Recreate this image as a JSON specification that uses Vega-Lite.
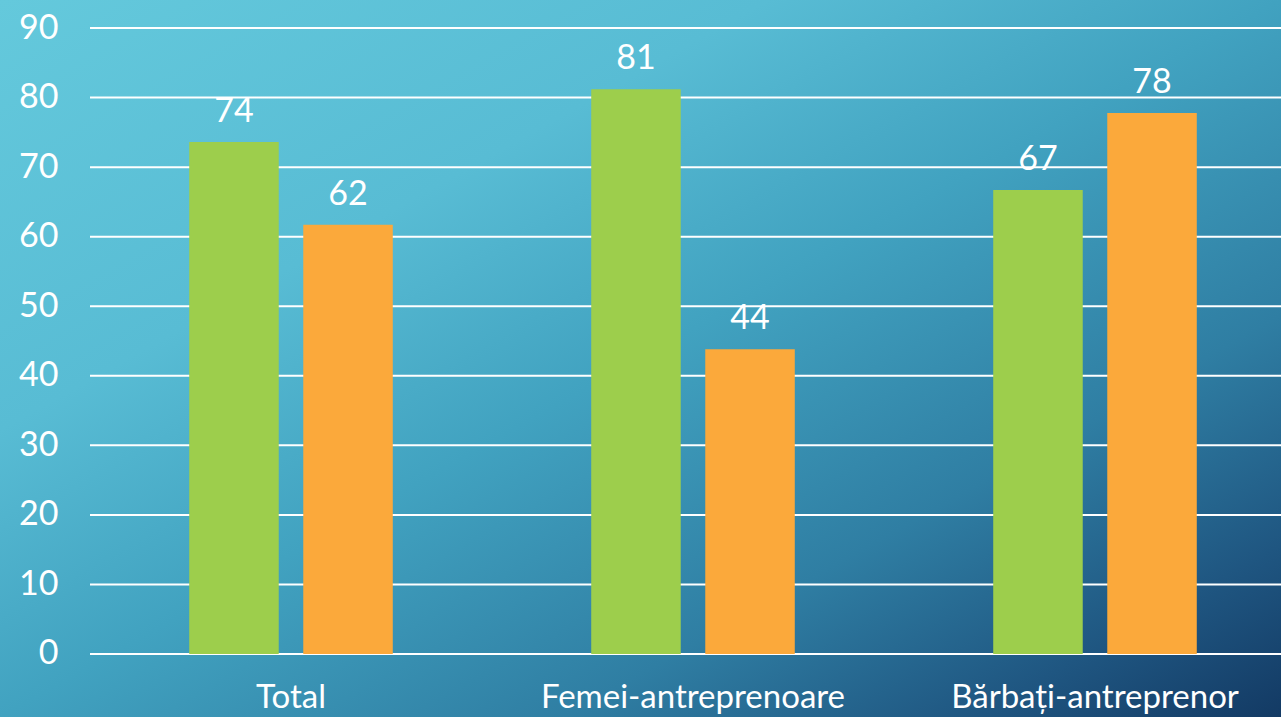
{
  "$schema": "https://vega.github.io/schema/vega-lite/v6.json",
  "width": 1281,
  "height": 717,
  "autosize": "none",
  "padding": 0,
  "background": "#3f9fbf",
  "config": {
    "view": {
      "stroke": null,
      "fill": {
        "gradient": "linear",
        "x1": 0, "y1": 0, "x2": 1, "y2": 1,
        "stops": [
          {"offset": 0, "color": "#64c9dc"},
          {"offset": 0.3, "color": "#58bcd4"},
          {"offset": 0.5, "color": "#41a2c0"},
          {"offset": 0.72, "color": "#2f7ea3"},
          {"offset": 0.88, "color": "#1f5681"},
          {"offset": 1, "color": "#133a64"}
        ]
      }
    },
    "font": "Lato"
  },
  "datasets": {
    "bars": [
      {"category": "Total", "series": "A", "value": 73.6},
      {"category": "Total", "series": "B", "value": 61.7},
      {"category": "Femei-antreprenoare", "series": "A", "value": 81.2},
      {"category": "Femei-antreprenoare", "series": "B", "value": 43.8},
      {"category": "Bărbați-antreprenor", "series": "A", "value": 66.7},
      {"category": "Bărbați-antreprenor", "series": "B", "value": 77.8}
    ],
    "grid": [
      {"g": 0}, {"g": 10}, {"g": 20}, {"g": 30}, {"g": 40},
      {"g": 50}, {"g": 60}, {"g": 70}, {"g": 80}, {"g": 90}
    ]
  },
  "layer": [
    {
      "data": {"name": "grid"},
      "mark": {"type": "rule", "color": "white", "strokeWidth": 2},
      "encoding": {
        "x": {"datum": "Total", "type": "nominal", "bandPosition": 0, "scale": {"domain": ["Total", "Femei-antreprenoare", "Bărbați-antreprenor"]}},
        "x2": {"value": {"expr": "width"}},
        "y": {"field": "g", "type": "quantitative"}
      }
    },
    {
      "data": {"name": "bars"},
      "mark": {"type": "bar"},
      "encoding": {
        "x": {"field": "category", "type": "nominal", "sort": null},
        "xOffset": {"field": "series", "type": "nominal", "scale": {"paddingInner": 0.215, "paddingOuter": 0.87}},
        "y": {"field": "value", "type": "quantitative"},
        "y2": {"datum": 0},
        "color": {
          "field": "series", "type": "nominal",
          "scale": {"domain": ["A", "B"], "range": ["#9dce4c", "#fba93b"]},
          "legend": null
        }
      }
    },
    {
      "data": {"name": "bars"},
      "mark": {"type": "text", "color": "white", "fontSize": 34, "baseline": "alphabetic", "dy": -20},
      "encoding": {
        "x": {"field": "category", "type": "nominal", "sort": null},
        "xOffset": {"field": "series", "type": "nominal", "scale": {"paddingInner": 0.215, "paddingOuter": 0.87}},
        "y": {"field": "value", "type": "quantitative"},
        "text": {"field": "value", "type": "quantitative", "format": ".0f"}
      }
    }
  ],
  "resolve": {"scale": {"x": "shared", "y": "shared"}},
  "encoding": {
    "x": {
      "type": "nominal",
      "scale": {"range": [90, 1296], "paddingInner": 0, "paddingOuter": 0},
      "axis": {
        "title": null, "domain": false, "ticks": false, "grid": false,
        "labelAngle": 0, "labelColor": "white", "labelFontSize": 33,
        "labelBaseline": "alphabetic", "labelPadding": -10, "labelFont": "Lato",
        "labelLimit": 0, "labelOverlap": false
      }
    },
    "y": {
      "type": "quantitative",
      "scale": {"domain": [-9.06, 94.03], "nice": false, "zero": false},
      "axis": {
        "title": null, "domain": false, "ticks": false, "grid": false,
        "values": [0, 10, 20, 30, 40, 50, 60, 70, 80, 90],
        "labelColor": "white", "labelFontSize": 34, "labelPadding": -58,
        "labelBaseline": "middle", "labelFont": "Lato"
      }
    }
  }
}
